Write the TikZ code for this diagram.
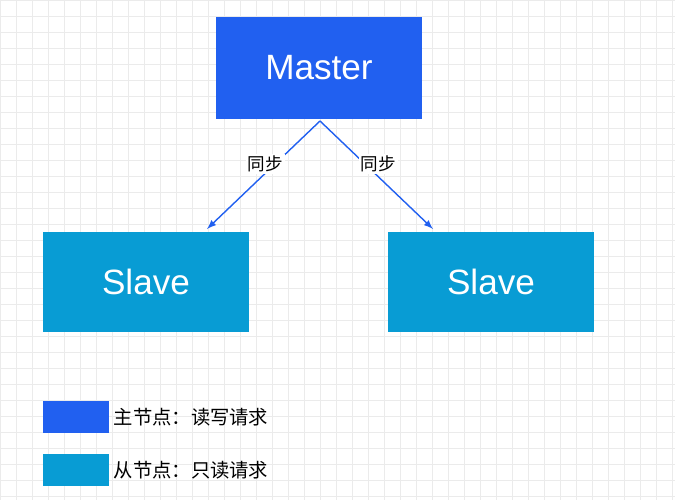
\documentclass[tikz,border=0pt]{standalone}
\usepackage{fontspec}
\setmainfont{Liberation Sans}
\newfontfamily\cjk{Noto Sans CJK SC}
\usetikzlibrary{arrows,positioning}
\definecolor{masterblue}{HTML}{2160F0}
\definecolor{slaveblue}{HTML}{089CD4}
\begin{document}
\begin{tikzpicture}[x=0.02cm,y=-0.02cm]
\tikzstyle{box} = [inner sep=0pt,font=\fontsize{20}{24}\selectfont,text=white]
\tikzstyle{sync} = [draw=masterblue,line width=0.8pt,-latex]
\tikzstyle{tag} = [fill=white,inner sep=1pt,font=\cjk\fontsize{10}{12}\selectfont]
\tikzstyle{legend} = [inner sep=0pt,minimum width=1.34cm,minimum height=0.64cm]

\useasboundingbox (0,0) rectangle (675,500);
\draw[black!8,line width=0.4pt] (0,0) grid[step=0.32cm] (675,500);

\node[box,fill=masterblue,minimum width=4.12cm,minimum height=2.04cm] (master) at (319,68) {Master};
\node[box,fill=slaveblue,minimum width=4.12cm,minimum height=2.02cm] (slave1) at (146,282) {Slave};
\node[box,fill=slaveblue,minimum width=4.14cm,minimum height=2.02cm] (slave2) at (491,282) {Slave};

\coordinate (top) at (320,121);
\coordinate (end1) at (207,229);
\coordinate (end2) at (433,229);
\draw[sync] (top) -- node[tag,pos=0.4,left=-6pt] {同步} (end1);
\draw[sync] (top) -- node[tag,pos=0.4,right=-4pt] {同步} (end2);

\node[legend,fill=masterblue] (lmaster) at (76,417) {};
\node[legend,fill=slaveblue] (lslave) at (76,470) {};
\node[right=2pt of lmaster,font=\cjk\fontsize{11}{13}\selectfont,inner sep=0pt] (tmaster) {主节点：读写请求};
\node[right=2pt of lslave,font=\cjk\fontsize{11}{13}\selectfont,inner sep=0pt] (tslave) {从节点：只读请求};
\end{tikzpicture}
\end{document}
